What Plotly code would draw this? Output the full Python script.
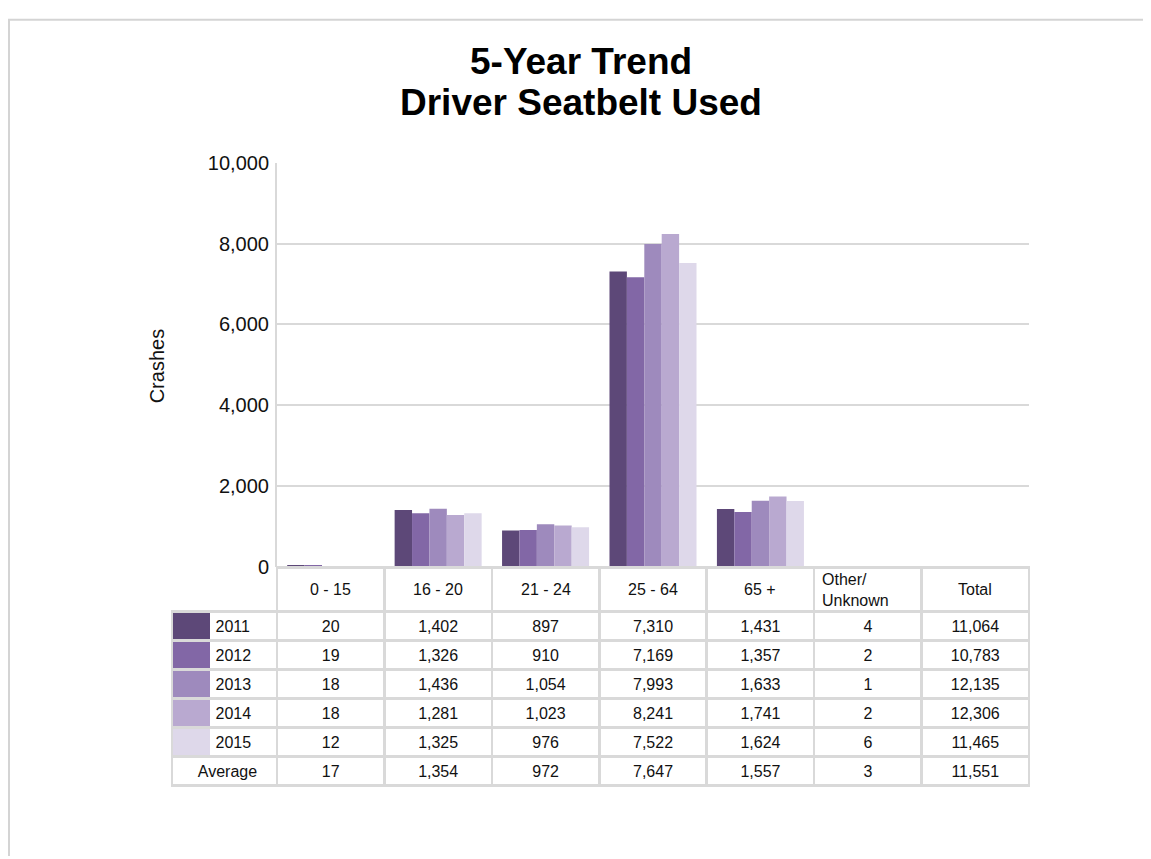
import plotly.graph_objects as go

# ---- data ----
categories = ["0 - 15", "16 - 20", "21 - 24", "25 - 64", "65 +", "Other/<br>Unknown", "Total"]
years = ["2011", "2012", "2013", "2014", "2015"]
v2011 = [20, 1402, 897, 7310, 1431, 4]
v2012 = [19, 1326, 910, 7169, 1357, 2]
v2013 = [18, 1436, 1054, 7993, 1633, 1]
v2014 = [18, 1281, 1023, 8241, 1741, 2]
v2015 = [12, 1325, 976, 7522, 1624, 6]
totals = [11064, 10783, 12135, 12306, 11465]
average = [17, 1354, 972, 7647, 1557, 3, 11551]
colors = ["#5d4878", "#8267a6", "#9e8abd", "#b9a9d0", "#ded8ea"]

series = [v2011, v2012, v2013, v2014, v2015]

W, H = 1151, 859
# where the figure paper ends up on the page (measured from earlier renders)
OFF_X, OFF_Y, PAPER_H = 8, 19.3, 835.5
FONT = "Liberation Sans, Arial, sans-serif"
GRID = "#d9d9d9"


def px(x):
    return (x - OFF_X) / W


def py(y):
    return 1 - (y - OFF_Y) / PAPER_H


fig = go.Figure()

for yr, vals, c in zip(years, series, colors):
    fig.add_trace(go.Bar(x=categories[:6], y=vals, name=yr, marker_color=c,
                         marker_line_width=0, showlegend=False))

# table below the chart
row_labels = ["\u00a0" * 8 + y for y in years] + ["\u00a0" * 4 + "Average"]
columns = [row_labels]
for j in range(7):
    col = []
    for i, vals in enumerate(series):
        col.append(f"{(vals[j] if j < 6 else totals[i]):,}")
    col.append(f"{average[j]:,}")
    columns.append(col)

table_top, header_h, row_h = 567, 44, 29
tab_left, tab_right = 172, 1029
first_w = 105

fig.add_trace(go.Table(
    domain=dict(x=[px(tab_left), px(tab_right)], y=[py(table_top + header_h + 6 * row_h + 4), py(table_top)]),
    columnwidth=[first_w] + [(tab_right - tab_left - first_w) / 7] * 7,
    header=dict(
        values=[""] * 8,
        height=header_h,
        line=dict(color=["rgba(0,0,0,0)"] + [GRID] * 7, width=2.5),
        fill=dict(color="rgba(0,0,0,0)"),
        font=dict(family=FONT, size=16, color="#111"),
    ),
    cells=dict(
        values=columns,
        height=row_h,
        align=["left"] + ["center"] * 7,
        line=dict(color=GRID, width=2.5),
        fill=dict(color="rgba(0,0,0,0)"),
        font=dict(family=FONT, size=16, color="#111"),
    ),
))

annotations = [
    dict(text="<b>5-Year Trend</b>", xref="paper", yref="paper", x=px(581), y=py(62),
         yanchor="middle", showarrow=False, font=dict(family=FONT, size=37, color="#000")),
    dict(text="<b>Driver Seatbelt Used</b>", xref="paper", yref="paper", x=px(581), y=py(103),
         yanchor="middle", showarrow=False, font=dict(family=FONT, size=37, color="#000")),
    dict(text="Crashes", xref="paper", yref="paper", x=px(144), y=py(366),
         textangle=-90, showarrow=False, font=dict(family=FONT, size=20, color="#111")),
]
# column headers of the table, placed on the category axis
for cat in categories:
    multi = "<br>" in cat
    annotations.append(dict(text=cat, xref="x", yref="paper", x=cat, y=py(table_top + header_h / 2),
                            yanchor="middle", showarrow=False, align="left",
                            xshift=-12 if multi else 0,
                            font=dict(family=FONT, size=16, color="#111")))

shapes = []
# legend swatches in the first table column
for i, c in enumerate(colors):
    y0 = table_top + header_h + i * row_h + 1
    shapes.append(dict(type="rect", xref="paper", yref="paper", layer="below",
                       x0=px(tab_left + 1), x1=px(210), y0=py(y0), y1=py(y0 + row_h - 2),
                       fillcolor=c, line_width=0))
# page frame
shapes.append(dict(type="line", xref="paper", yref="paper", x0=px(8), x1=1, y0=0.999, y1=0.999,
                   line=dict(color="#d4d4d4", width=2)))
shapes.append(dict(type="line", xref="paper", yref="paper", x0=px(9), x1=px(9), y0=0.999, y1=0,
                   line=dict(color="#d4d4d4", width=2)))

fig.update_layout(
    width=W, height=H,
    margin=dict(l=0, r=0, t=0, b=0),
    paper_bgcolor="white", plot_bgcolor="white",
    font=dict(family=FONT, color="#111"),
    barmode="group", bargap=0.19, bargroupgap=0,
    xaxis=dict(domain=[px(277), px(1029)], categoryorder="array", categoryarray=categories,
               range=[-0.5, 6.5], showticklabels=False, showgrid=False, zeroline=False,
               showline=False, ticks=""),
    yaxis=dict(domain=[py(566), py(163)], range=[0, 10000], dtick=2000, tickformat=",d",
               showgrid=True, gridcolor=GRID, gridwidth=2, zeroline=False,
               showline=True, linecolor=GRID, linewidth=2, ticks="",
               tickfont=dict(family=FONT, size=20, color="#111"), ticklabelstandoff=2),
    annotations=annotations,
    shapes=shapes,
)

fig.write_html("out.html")
